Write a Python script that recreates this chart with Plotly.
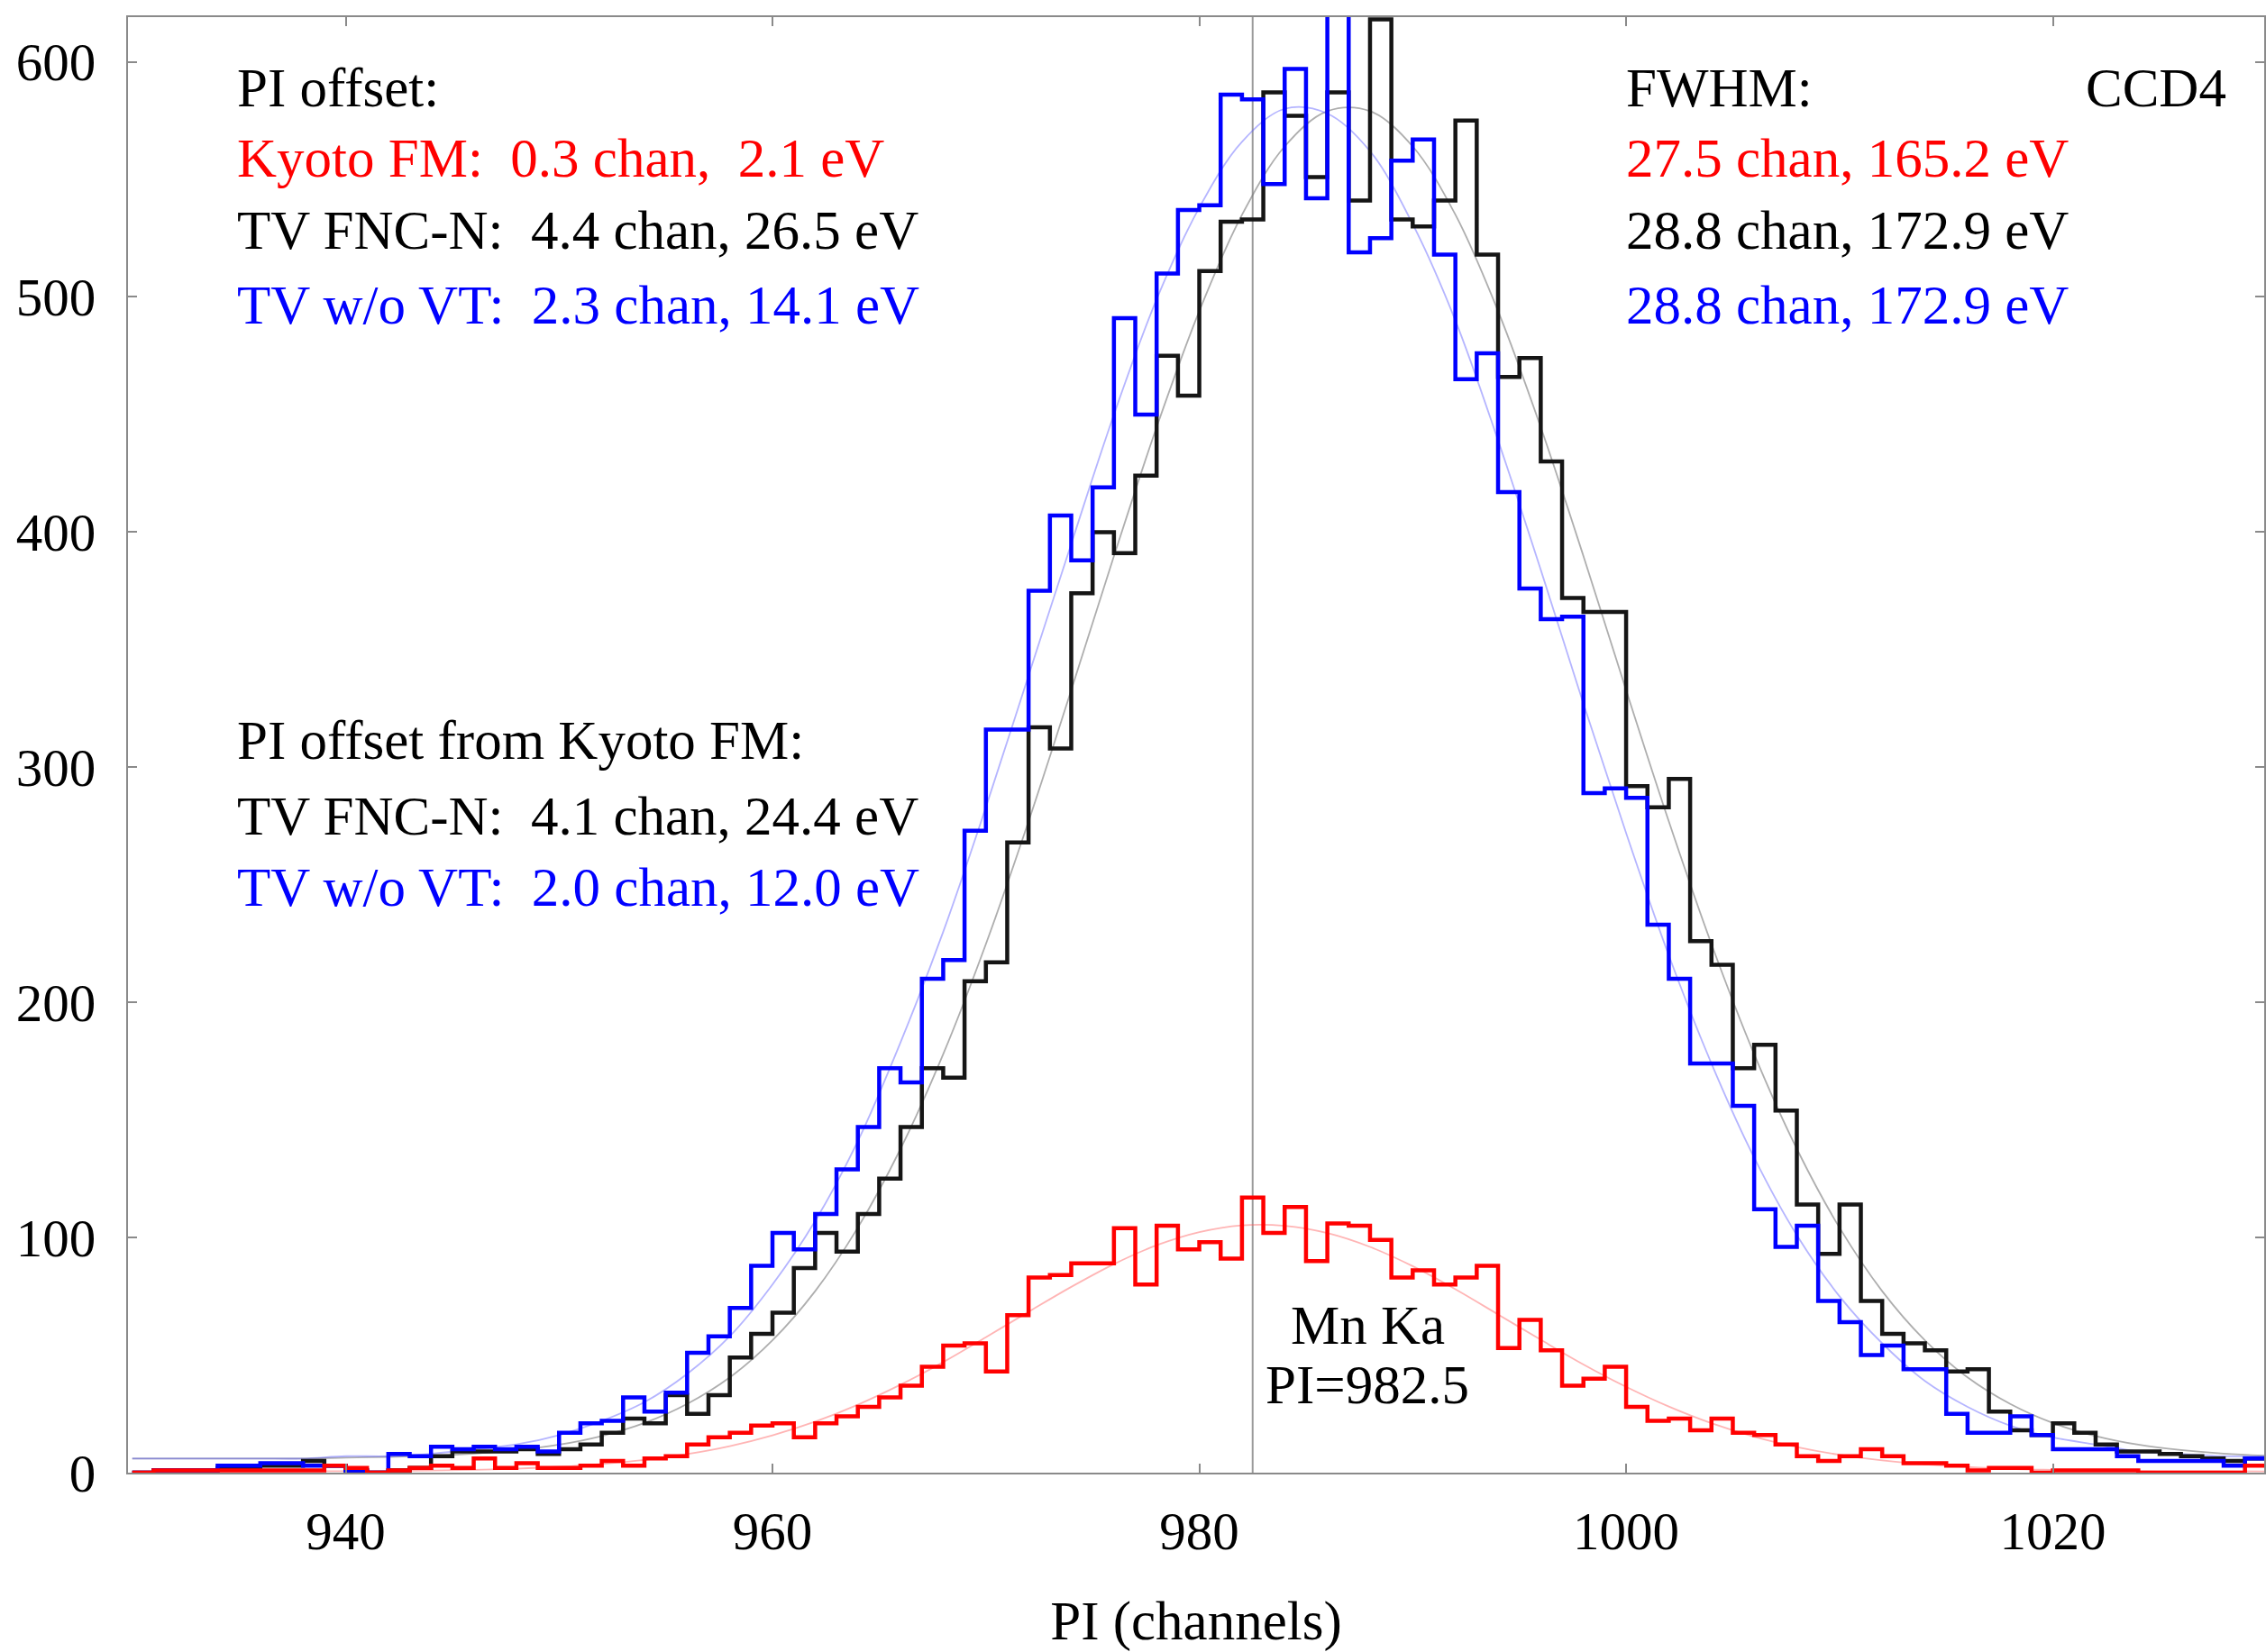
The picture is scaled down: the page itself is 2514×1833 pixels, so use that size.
import plotly.graph_objects as go

# ---------------- data ----------------
bin_start = list(range(930, 1030))          # channel bins [k, k+1)

kyoto_fm = [0, 1, 1, 1, 1, 1, 1, 1, 1, 3,
            2, 0, 1, 2, 3, 2, 6, 2, 4, 2,
            2, 3, 5, 3, 6, 7, 12, 15, 17, 20,
            21, 15, 21, 24, 28, 32, 37, 45, 54, 55,
            43, 67, 83, 84, 89, 89, 104, 80, 105, 95,
            98, 91, 117, 102, 113, 90, 106, 105, 99, 83,
            86, 80, 83, 88, 53, 65, 52, 37, 40, 45,
            28, 22, 23, 18, 23, 17, 16, 12, 7, 5,
            7, 10, 7, 4, 4, 3, 1, 2, 2, 0,
            1, 1, 1, 1, 0, 0, 0, 0, 0, 3]

tv_fnc_n = [0, 1, 1, 1, 2, 2, 3, 3, 5, 3,
            1, 0, 1, 2, 7, 9, 9, 9, 10, 8,
            10, 12, 17, 23, 21, 33, 25, 33, 49, 59,
            68, 87, 102, 94, 110, 125, 147, 172, 168, 209,
            217, 268, 317, 308, 374, 400, 391, 424, 475, 458,
            511, 532, 533, 587, 577, 551, 587, 541, 618, 533,
            530, 541, 575, 518, 466, 474, 430, 372, 366, 366,
            292, 283, 295, 226, 216, 172, 182, 154, 114, 93,
            114, 73, 59, 55, 52, 43, 44, 26, 18, 16,
            21, 17, 12, 9, 9, 8, 7, 6, 5, 6]

tv_wo_vt = [0, 1, 1, 1, 3, 3, 4, 4, 3, 3,
            1, 0, 8, 7, 11, 10, 11, 10, 11, 9,
            17, 21, 22, 32, 26, 34, 51, 58, 70, 88,
            102, 95, 110, 129, 147, 172, 166, 210, 218, 273,
            316, 316, 375, 407, 388, 419, 491, 450, 510, 537,
            539, 586, 584, 548, 597, 542, 640, 519, 525, 558,
            567, 518, 465, 476, 417, 376, 363, 364, 289, 291,
            287, 233, 210, 174, 174, 156, 112, 96, 105, 73,
            64, 50, 54, 44, 44, 25, 17, 17, 24, 16,
            10, 10, 10, 7, 5, 5, 5, 5, 3, 6]

# fitted model curves, sampled every 2 channels
fit_x = list(range(930, 1031, 2))
fit_fnc_n = [6, 6, 6, 6, 6, 6.4, 6.7, 7.2, 8.1, 9.6, 11.9, 15.6, 21.1, 29.2, 40.5,
             56.3, 77.2, 104.2, 137.7, 178, 224.8, 277, 332.8, 389.8, 444.6, 494,
             534.9, 564, 579, 579, 564, 535, 494, 444.6, 389.8, 332.8, 277, 224.8,
             178, 137.7, 104.2, 77.2, 56.3, 40.5, 29.2, 21.1, 15.6, 11.9, 9.6, 8.1, 7.2]
fit_wo_vt = [6, 6, 6, 6, 6, 7, 7, 8, 10, 12, 16, 22, 30, 42, 58, 80, 107, 141, 183,
             230, 283, 339, 395, 450, 499, 538, 566, 580, 578, 562, 531, 490, 439,
             384, 327, 272, 220, 174, 134, 101, 75, 55, 39, 28, 20, 15, 12, 9, 8, 7, 7]
fit_kyoto = [0.5, 0.5, 0.5, 0.5, 0.6, 0.6, 0.7, 0.9, 1.2, 1.7, 2.5, 3.7, 5.4, 7.9,
             11.3, 15.9, 21.7, 28.9, 37.4, 47, 57.6, 68.4, 79, 88.7, 96.7, 102.3,
             105.2, 105, 101.9, 96, 87.8, 78, 67.3, 56.5, 46, 36.5, 28.1, 21, 15.3,
             10.9, 7.6, 5.2, 3.5, 2.4, 1.6, 1.2, 0.9, 0.7, 0.6, 0.6, 0.5]

line_energy_pi = 982.5
x_ticks = [940, 960, 980, 1000, 1020]
y_ticks = [0, 100, 200, 300, 400, 500, 600]

# ---------------- figure ----------------
FONT = "Liberation Serif, Times New Roman, serif"
FS_TICK = 59
FS_TEXT = 61
RED, BLACK, BLUE = "#ff0000", "#151515", "#0000ff"

edges = bin_start + [bin_start[-1] + 1]


def steps(vals):
    return vals + [vals[-1]]


fig = go.Figure()
fig.add_trace(go.Scatter(x=fit_x, y=fit_fnc_n, mode="lines", line_shape="spline",
                         line=dict(color="rgba(120,120,120,0.6)", width=1.8),
                         showlegend=False, hoverinfo="skip"))
fig.add_trace(go.Scatter(x=fit_x, y=fit_wo_vt, mode="lines", line_shape="spline",
                         line=dict(color="rgba(90,90,255,0.45)", width=1.8),
                         showlegend=False, hoverinfo="skip"))
fig.add_trace(go.Scatter(x=fit_x, y=fit_kyoto, mode="lines", line_shape="spline",
                         line=dict(color="rgba(255,90,90,0.45)", width=1.8),
                         showlegend=False, hoverinfo="skip"))

for vals, col, name in [(tv_fnc_n, BLACK, "TV FNC-N"),
                        (tv_wo_vt, BLUE, "TV w/o VT"),
                        (kyoto_fm, RED, "Kyoto FM")]:
    fig.add_trace(go.Scatter(x=edges, y=steps(vals), mode="lines", line_shape="hv",
                             line=dict(color=col, width=4.5), name=name,
                             showlegend=False))

fig.add_shape(type="line", xref="x", yref="paper", x0=line_energy_pi, x1=line_energy_pi,
              y0=0, y1=1, line=dict(color="#9a9a9a", width=2), layer="below")

NB = "\u00a0"


def ann(text, x, y, color="black", xanchor="left"):
    fig.add_annotation(text=text, x=x, y=y, xref="paper", yref="paper",
                       xanchor=xanchor, yanchor="middle", showarrow=False,
                       font=dict(family=FONT, size=FS_TEXT, color=color))


xl = 0.0502
ann("PI offset:", xl, 0.9517)
ann(f"Kyoto FM:{NB}{NB}0.3 chan,{NB}{NB}2.1 eV", xl, 0.9028, RED)
ann(f"TV FNC-N:{NB}{NB}4.4 chan, 26.5 eV", xl, 0.8533, "black")
ann(f"TV w/o VT:{NB}{NB}2.3 chan, 14.1 eV", xl, 0.8019, BLUE)

ann("PI offset from Kyoto FM:", xl, 0.5034)
ann(f"TV FNC-N:{NB}{NB}4.1 chan, 24.4 eV", xl, 0.4508, "black")
ann(f"TV w/o VT:{NB}{NB}2.0 chan, 12.0 eV", xl, 0.4019, BLUE)

xr = 0.7004
ann("FWHM:", xr, 0.9517)
ann("CCD4", 0.9831, 0.9517, xanchor="right")
ann("27.5 chan, 165.2 eV", xr, 0.9028, RED)
ann("28.8 chan, 172.9 eV", xr, 0.8533, "black")
ann("28.8 chan, 172.9 eV", xr, 0.8019, BLUE)

ann("Mn Ka", 0.5802, 0.1015, xanchor="center")
ann(f"PI={line_energy_pi}", 0.5802, 0.0601, xanchor="center")

axis_common = dict(showline=True, linecolor="#8a8a8a", linewidth=2, mirror="ticks",
                   ticks="inside", ticklen=10, tickwidth=2, tickcolor="#8a8a8a",
                   showgrid=False, zeroline=False, automargin=False,
                   tickfont=dict(family=FONT, size=FS_TICK, color="black"))

fig.update_xaxes(range=[929.8, 1029.9], tickvals=x_ticks,
                 ticklabelstandoff=12,
                 title=dict(text="PI (channels)", standoff=60,
                            font=dict(family=FONT, size=FS_TEXT, color="black")),
                 **axis_common)
fig.update_yaxes(range=[0, 619], tickvals=y_ticks, ticklabelstandoff=22,
                 **axis_common)

fig.update_layout(width=2514, height=1833,
                  margin=dict(l=142, r=2, t=19, b=199, autoexpand=False),
                  paper_bgcolor="white", plot_bgcolor="white",
                  font=dict(family=FONT, size=FS_TICK, color="black"))

fig.write_html("out.html",
               config={"displayModeBar": False},
               post_script="document.body.style.margin='0px';"
                           "document.body.style.overflow='hidden';")
